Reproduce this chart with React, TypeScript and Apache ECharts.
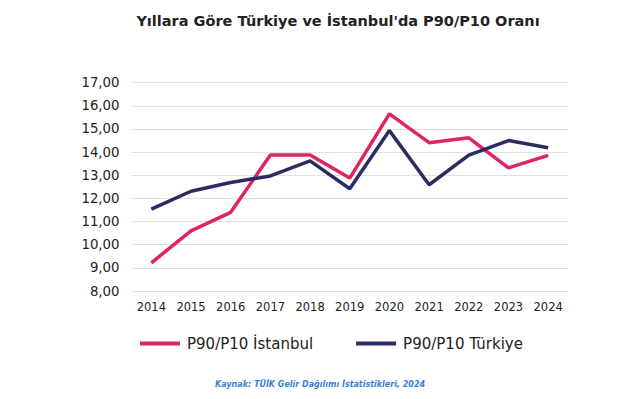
import React, { useEffect, useRef } from "react";
import * as echarts from "echarts";

const years = ["2014", "2015", "2016", "2017", "2018", "2019", "2020", "2021", "2022", "2023", "2024"];
const istanbul = [9.22, 10.6, 11.4, 13.88, 13.88, 12.88, 15.65, 14.41, 14.62, 13.32, 13.86];
const turkiye = [11.54, 12.31, 12.69, 12.97, 13.62, 12.42, 14.93, 12.59, 13.87, 14.5, 14.19];
const seriesNames = ["P90/P10 İstanbul", "P90/P10 Türkiye"];
const titleText = "Yıllara Göre Türkiye ve İstanbul'da P90/P10 Oranı";
const sourceText = "Kaynak: TÜİK Gelir Dağılımı İstatistikleri, 2024";

const FONT = "'DejaVu Sans', 'Noto Sans', sans-serif";

export default function App() {
  const ref = useRef<HTMLDivElement>(null);
  useEffect(() => {
    if (!ref.current) return;
    const chart = echarts.init(ref.current, null, { renderer: "svg" });
    chart.setOption({
      animation: false,
      backgroundColor: "#ffffff",
      textStyle: { fontFamily: FONT },
      title: {
        text: titleText,
        left: 333,
        textAlign: "center",
        top: 8,
        textStyle: { fontFamily: FONT, fontSize: 14.5, fontWeight: "bold", color: "#222" },
      },
      graphic: [
        {
          type: "text",
          left: "center",
          top: 380,
          style: {
            text: sourceText,
            fontFamily: FONT,
            fontSize: 8,
            fontStyle: "italic",
            fontWeight: "bold",
            fill: "#3b7fd9",
          },
        },
      ],
      legend: {
        left: 135,
        top: 331,
        itemWidth: 40,
        itemHeight: 4,
        itemGap: 43,
        icon: "rect",
        textStyle: { fontFamily: FONT, fontSize: 15, color: "#222", padding: [0, 0, 0, 2] },
        data: seriesNames,
      },
      grid: { left: 131.5, right: 72, top: 82.7, bottom: 108 },
      xAxis: {
        type: "category",
        data: years,
        boundaryGap: true,
        axisLine: { show: false },
        axisTick: { show: false },
        axisLabel: { fontFamily: FONT, fontSize: 11.5, color: "#222", margin: 10 },
      },
      yAxis: {
        type: "value",
        min: 8,
        max: 17,
        interval: 1,
        axisLine: { show: false },
        axisTick: { show: false },
        splitLine: { lineStyle: { color: "#e0e0e0", width: 1 } },
        axisLabel: {
          fontFamily: FONT,
          fontSize: 13.3,
          color: "#222",
          margin: 12,
          formatter: (v: number) => v.toFixed(2).replace(".", ","),
        },
      },
      series: [
        {
          name: seriesNames[0],
          type: "line",
          data: istanbul,
          symbol: "none",
          color: "#e0245e",
          lineStyle: { width: 3.5, color: "#e0245e" },
        },
        {
          name: seriesNames[1],
          type: "line",
          data: turkiye,
          symbol: "none",
          color: "#2b2d62",
          lineStyle: { width: 3.5, color: "#2b2d62" },
        },
      ],
    });
    return () => chart.dispose();
  }, []);
  return <div ref={ref} style={{ width: 640, height: 399, position: "absolute", left: 0, top: 0 }} />;
}
